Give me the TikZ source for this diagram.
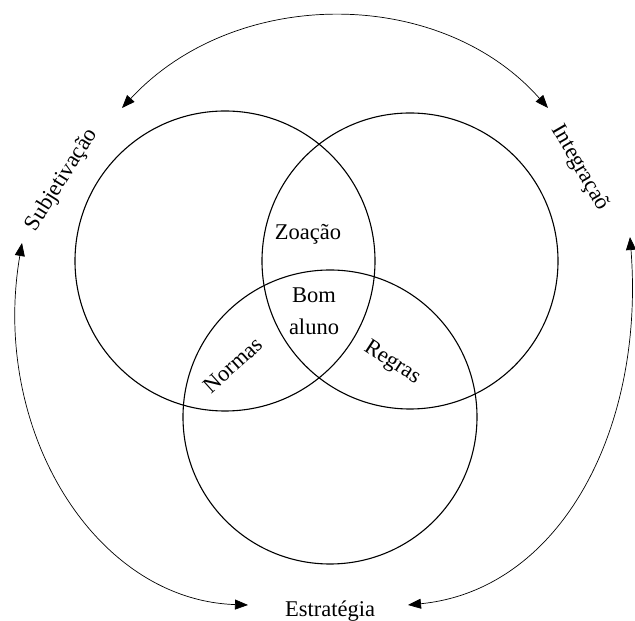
\documentclass[tikz,border=0pt]{standalone}
\usepackage{fontspec}
\setmainfont{Liberation Serif}
\usetikzlibrary{arrows.meta}
\tikzset{
  set/.style={draw, line width=1.1pt},
  lbl/.style={font=\fontsize{22.5}{32}\selectfont, inner sep=0pt},
  link/.style={line width=0.7pt, {Triangle[length=13pt,width=10pt]}-{Triangle[length=13pt,width=10pt]}}
}
\begin{document}
\begin{tikzpicture}[x=1pt,y=1pt]
\useasboundingbox (0,0) rectangle (635,621);
% sets
\draw[set] (225,360) circle (150);
\draw[set] (410,360) circle (148);
\draw[set] (330,204) circle (147);
% labels
\node[lbl] (zoa) at (308,387) {Zoação};
\node[lbl, align=center] (bom) at (314,310) {Bom\\aluno};
\node[lbl, rotate=42] (nor) at (233,256) {Normas};
\node[lbl, rotate=-33] (reg) at (392,258) {Regras};
\node[lbl, rotate=58] (sub) at (62,441) {Subjetivação};
\node[lbl, rotate=-60] (int) at (580,453) {Integraçaõ};
\node[lbl, anchor=base] (est) at (330,4) {Estratégia};
% arrow endpoints
\coordinate (subT) at (122,513);
\coordinate (intT) at (548,513);
\coordinate (subB) at (22,378);
\coordinate (intB) at (630,384);
\coordinate (estL) at (248,16);
\coordinate (estR) at (408,16);
\draw[link] (subT) .. controls (235,635) and (440,635) .. (intT);
\draw[link] (subB) .. controls (-10,191) and (95,21) .. (estL);
\draw[link] (intB) .. controls (645,191) and (560,31) .. (estR);
\end{tikzpicture}
\end{document}
